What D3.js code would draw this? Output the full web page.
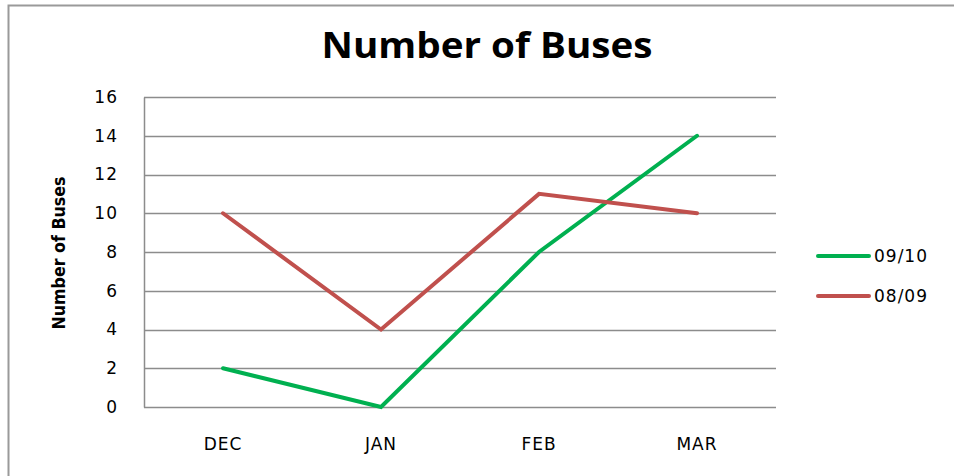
<!DOCTYPE html>
<html>
<head>
<meta charset="utf-8">
<script src="https://cdn.jsdelivr.net/npm/d3@7"></script>
<style>
  body { margin: 0; background: #fff; }
  svg { display: block; }
</style>
</head>
<body>
<div id="chart"></div>
<script>
var months = ['DEC', 'JAN', 'FEB', 'MAR'];
var series0910 = [2, 0, 8, 14];
var series0809 = [10, 4, 11, 10];
var seriesNames = ['09/10', '08/09'];
var seriesColors = ['#00B050', '#C0504D'];
var yTicks = [0, 2, 4, 6, 8, 10, 12, 14, 16];

var width = 954, height = 476;
var plot = { left: 144, right: 776, top: 97, bottom: 407 };
var labelFont = '"DejaVu Sans", Verdana, sans-serif';

var svg = d3.select('#chart')
  .append('svg')
  .attr('width', width)
  .attr('height', height);

// outer chart frame (runs off right/bottom like the screenshot)
svg.append('rect')
  .attr('x', 8.5)
  .attr('y', 5.5)
  .attr('width', 960)
  .attr('height', 500)
  .style('fill', '#fff')
  .style('stroke', '#9a9a9a')
  .style('stroke-width', 2);

var x = d3.scaleBand()
  .domain(months)
  .range([plot.left, plot.right]);

var y = d3.scaleLinear()
  .domain([0, 16])
  .range([plot.bottom, plot.top]);

// gridlines
svg.append('g')
  .selectAll('line')
  .data(yTicks)
  .enter()
  .append('line')
  .attr('x1', plot.left)
  .attr('x2', plot.right)
  .attr('y1', d => Math.round(y(d)) + 0.5)
  .attr('y2', d => Math.round(y(d)) + 0.5)
  .style('stroke', '#8c8c8c')
  .style('stroke-width', 1.5);

// y axis
var yAxis = svg.append('g')
  .attr('transform', 'translate(' + plot.left + ',0)')
  .call(d3.axisLeft(y).tickValues(yTicks).tickSize(0).tickPadding(26));
yAxis.select('.domain').style('stroke', '#8c8c8c').style('stroke-width', 1.5);
yAxis.selectAll('.tick text')
  .style('font-family', labelFont)
  .style('font-size', '17px')
  .style('letter-spacing', '1px')
  .style('fill', '#000');

// x axis
var xAxis = svg.append('g')
  .attr('transform', 'translate(0,' + plot.bottom + ')')
  .call(d3.axisBottom(x).tickSize(0).tickPadding(31));
xAxis.select('.domain').remove();
xAxis.selectAll('.tick text')
  .style('font-family', labelFont)
  .style('font-size', '17px')
  .style('letter-spacing', '1px')
  .style('fill', '#000');

// title
svg.append('text')
  .attr('x', 487)
  .attr('y', 58)
  .attr('text-anchor', 'middle')
  .attr('textLength', 331)
  .attr('lengthAdjust', 'spacingAndGlyphs')
  .style('font-family', '"Open Sans", sans-serif')
  .style('font-weight', 'bold')
  .style('font-size', '35px')
  .text('Number of Buses');

// y axis title
svg.append('text')
  .attr('transform', 'translate(65,253) rotate(-90)')
  .attr('text-anchor', 'middle')
  .attr('textLength', 153)
  .attr('lengthAdjust', 'spacingAndGlyphs')
  .style('font-family', '"DejaVu Sans Condensed", "DejaVu Sans", sans-serif')
  .style('font-weight', 'bold')
  .style('font-size', '17px')
  .text('Number of Buses');

var line = d3.line()
  .x((d, i) => x(months[i]) + x.bandwidth() / 2)
  .y(d => y(d));

var allSeries = [series0910, series0809];

svg.append('g')
  .selectAll('path')
  .data(allSeries)
  .enter()
  .append('path')
  .attr('d', line)
  .style('fill', 'none')
  .style('stroke', (d, i) => seriesColors[i])
  .style('stroke-width', 4)
  .style('stroke-linecap', 'round')
  .style('stroke-linejoin', 'miter');

// legend
var legend = svg.append('g')
  .selectAll('g')
  .data(seriesNames)
  .enter()
  .append('g')
  .attr('transform', (d, i) => 'translate(818,' + (256 + i * 40) + ')');

legend.append('line')
  .attr('x1', 0)
  .attr('x2', 51)
  .style('stroke', (d, i) => seriesColors[i])
  .style('stroke-width', 4)
  .style('stroke-linecap', 'round');

legend.append('text')
  .attr('x', 56)
  .attr('dy', '0.35em')
  .style('font-family', labelFont)
  .style('font-size', '17px')
  .style('letter-spacing', '1px')
  .text(d => d);
</script>
</body>
</html>
